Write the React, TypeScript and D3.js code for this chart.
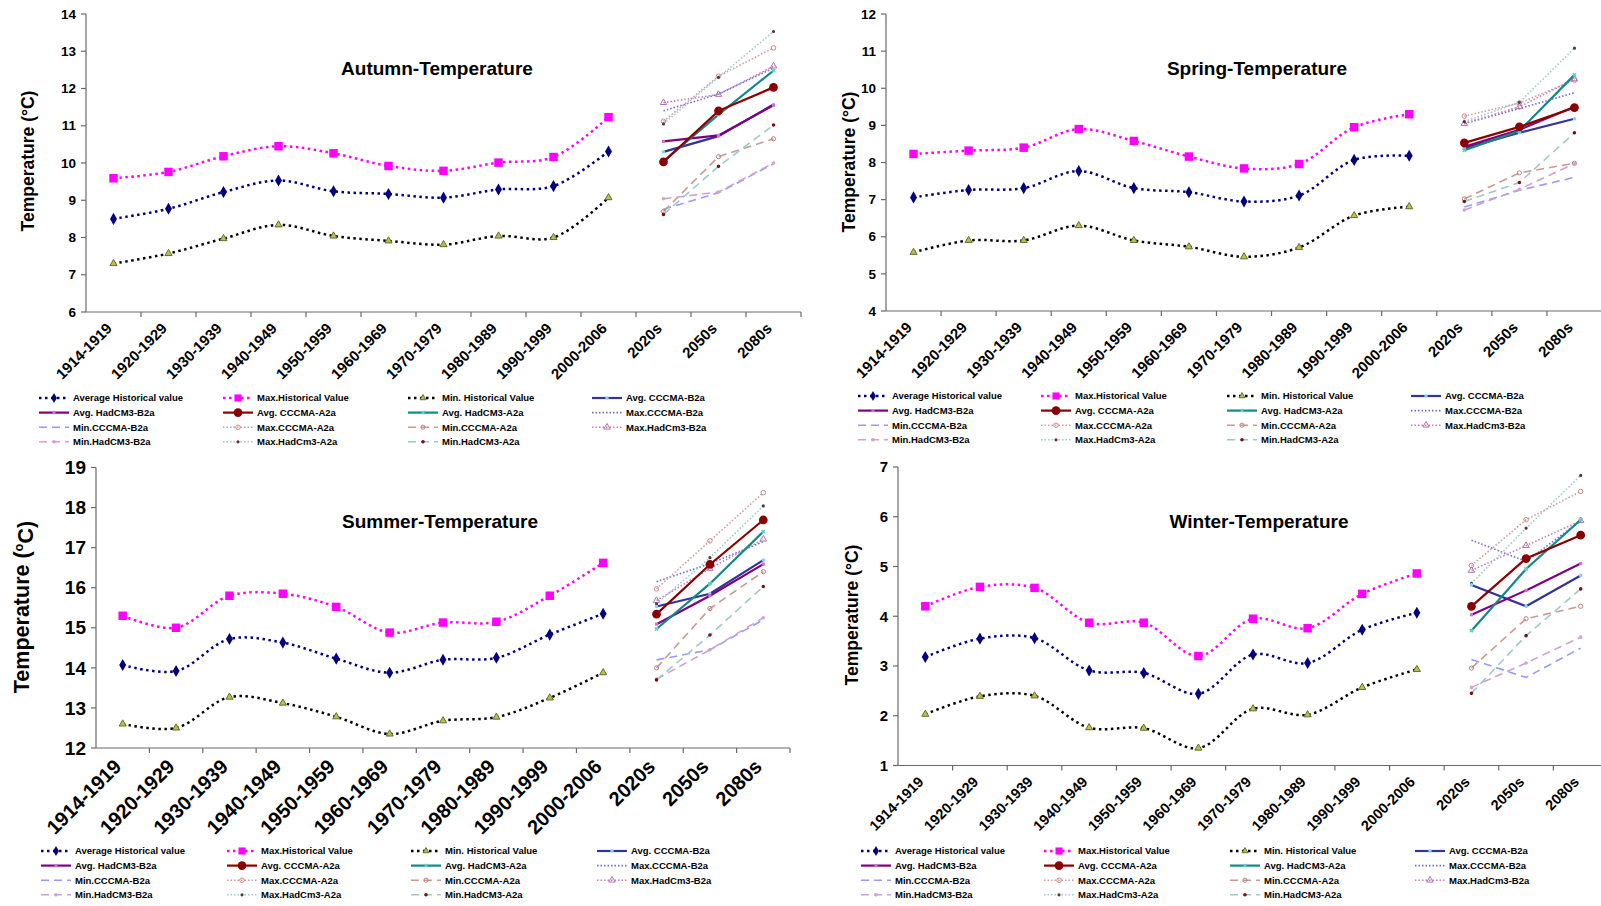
import React from "react";
import * as d3 from "d3";

// categories on the x axis
const periods = [
  "1914-1919", "1920-1929", "1930-1939", "1940-1949", "1950-1959",
  "1960-1969", "1970-1979", "1980-1989", "1990-1999", "2000-2006",
  "2020s", "2050s", "2080s",
];
const histPeriods = periods.slice(0, 10);
const futurePeriods = periods.slice(10);

// legend order (4 columns, row by row)
const seriesNames = [
  "Average Historical value", "Max.Historical Value", "Min. Historical Value", "Avg. CCCMA-B2a",
  "Avg. HadCM3-B2a", "Avg. CCCMA-A2a", "Avg. HadCM3-A2a", "Max.CCCMA-B2a",
  "Min.CCCMA-B2a", "Max.CCCMA-A2a", "Min.CCCMA-A2a", "Max.HadCm3-B2a",
  "Min.HadCM3-B2a", "Max.HadCm3-A2a", "Min.HadCM3-A2a",
];

// ---- Autumn
const autumnAvg = [8.5, 8.77, 9.22, 9.53, 9.24, 9.17, 9.07, 9.29, 9.38, 10.31];
const autumnMax = [9.59, 9.76, 10.18, 10.45, 10.26, 9.92, 9.79, 10.01, 10.16, 11.23];
const autumnMin = [7.3, 7.57, 7.97, 8.34, 8.04, 7.91, 7.81, 8.04, 8.0, 9.07];
// projections (2020s, 2050s, 2080s) in legend order, series 4..15
const autumnProj = [
  [10.3, 10.72, 11.57],
  [10.58, 10.74, 11.55],
  [10.03, 11.4, 12.03],
  [10.05, 11.3, 12.48],
  [11.4, 11.85, 12.55],
  [8.76, 9.2, 9.98],
  [11.12, 12.33, 13.09],
  [8.7, 10.17, 10.65],
  [11.62, 11.84, 12.6],
  [9.04, 9.22, 10.0],
  [11.05, 12.3, 13.53],
  [8.62, 9.91, 11.02],
];

// ---- Spring
const springAvg = [7.06, 7.26, 7.31, 7.77, 7.31, 7.2, 6.95, 7.11, 8.07, 8.18];
const springMax = [8.23, 8.32, 8.4, 8.9, 8.58, 8.16, 7.84, 7.96, 8.95, 9.3];
const springMin = [5.58, 5.9, 5.9, 6.3, 5.9, 5.73, 5.46, 5.71, 6.57, 6.81];
const springProj = [
  [8.38, 8.8, 9.18],
  [8.42, 8.88, 9.5],
  [8.53, 8.96, 9.48],
  [8.33, 8.85, 10.36],
  [9.05, 9.45, 9.88],
  [6.8, 7.25, 7.6],
  [9.25, 9.6, 10.22],
  [7.02, 7.72, 7.98],
  [9.05, 9.5, 10.25],
  [6.72, 7.28, 7.97],
  [9.1, 9.62, 11.08],
  [6.95, 7.46, 8.8],
];

// ---- Summer
const summerAvg = [14.07, 13.92, 14.72, 14.63, 14.23, 13.88, 14.2, 14.25, 14.83, 15.35];
const summerMax = [15.3, 15.0, 15.8, 15.85, 15.52, 14.88, 15.13, 15.15, 15.8, 16.62];
const summerMin = [12.6, 12.5, 13.27, 13.12, 12.78, 12.35, 12.68, 12.77, 13.25, 13.88];
const summerProj = [
  [15.53, 15.85, 16.69],
  [15.09, 15.8, 16.59],
  [15.34, 16.58, 17.69],
  [14.97, 16.1, 17.4],
  [16.15, 16.6, 17.15],
  [14.2, 14.45, 15.2],
  [15.97, 17.17, 18.37],
  [14.0, 15.48, 16.4],
  [15.68, 16.48, 17.21],
  [13.72, 14.45, 15.25],
  [15.6, 16.75, 18.04],
  [13.7, 14.82, 16.03],
];

// ---- Winter
const winterAvg = [3.18, 3.55, 3.56, 2.91, 2.86, 2.44, 3.23, 3.06, 3.73, 4.07];
const winterMax = [4.2, 4.59, 4.57, 3.87, 3.87, 3.2, 3.95, 3.76, 4.45, 4.86];
const winterMin = [2.03, 2.39, 2.4, 1.76, 1.75, 1.35, 2.14, 2.02, 2.57, 2.93];
const winterProj = [
  [4.63, 4.2, 4.82],
  [4.03, 4.52, 5.06],
  [4.2, 5.16, 5.63],
  [3.71, 4.95, 5.94],
  [5.53, 5.1, 5.92],
  [3.13, 2.77, 3.36],
  [5.02, 5.94, 6.51],
  [2.96, 3.95, 4.2],
  [4.92, 5.42, 5.92],
  [2.57, 3.06, 3.58],
  [4.66, 5.77, 6.83],
  [2.45, 3.61, 4.55],
];

const DOT = "2.5,3.5";
const FDOT = "1.5,2";
const DASH = "8,5";

// line + marker look for each legend entry
const looks = [
  { color: "#000080", dash: DOT, w: 2.5, sym: d3.symbolDiamond, size: 42, fill: "#000080", stroke: "none" },
  { color: "#FF00FF", dash: DOT, w: 2.5, sym: d3.symbolSquare, size: 72, fill: "#FF00FF", stroke: "none" },
  { color: "#000000", dash: DOT, w: 2.5, sym: d3.symbolTriangle, size: 22, fill: "#B7C24C", stroke: "#6b6b30" },
  { color: "#333399", dash: null, w: 2.2, sym: d3.symbolCircle, size: 10, fill: "#7FD4FF", stroke: "none" },
  { color: "#800080", dash: null, w: 2.2, sym: d3.symbolSquare, size: 10, fill: "#D070D0", stroke: "none" },
  { color: "#8B0000", dash: null, w: 2.2, sym: d3.symbolCircle, size: 60, fill: "#8B0000", stroke: "none" },
  { color: "#118A85", dash: null, w: 2.2, sym: d3.symbolCross, size: 12, fill: "#66CCCC", stroke: "none" },
  { color: "#6D6DD0", dash: FDOT, w: 1.6, sym: null, size: 0, fill: "none", stroke: "none" },
  { color: "#9A9AF5", dash: DASH, w: 1.6, sym: null, size: 0, fill: "none", stroke: "none" },
  { color: "#D39A9A", dash: FDOT, w: 1.6, sym: d3.symbolCircle, size: 16, fill: "none", stroke: "#C98888" },
  { color: "#C99A90", dash: DASH, w: 1.6, sym: d3.symbolCircle, size: 14, fill: "none", stroke: "#B98080" },
  { color: "#C27CC2", dash: FDOT, w: 1.6, sym: d3.symbolTriangle, size: 18, fill: "none", stroke: "#B070B0" },
  { color: "#D2A0D2", dash: DASH, w: 1.6, sym: d3.symbolCircle, size: 10, fill: "#D2A0D2", stroke: "none" },
  { color: "#9CCACA", dash: FDOT, w: 1.6, sym: d3.symbolCircle, size: 8, fill: "#5a3535", stroke: "none" },
  { color: "#9CCACA", dash: DASH, w: 1.6, sym: d3.symbolCircle, size: 10, fill: "#7a1010", stroke: "none" },
];

const FONT = "'Liberation Sans', Arial, Helvetica, sans-serif";

const panels = [
  {
    title: "Autumn-Temperature", avg: autumnAvg, max: autumnMax, min: autumnMin, proj: autumnProj,
    x0: 86, x1: 801, yT: 14, yB: 312, yMin: 6, yMax: 14,
    titleX: 437, titleY: 75, labX: 34, labY: 161, labSize: 17.5, tickSize: 13.5, xTickSize: 15,
    legX: [39, 223, 408, 592], legY: 398, sup: false, lblShift: -8,
  },
  {
    title: "Spring-Temperature", avg: springAvg, max: springMax, min: springMin, proj: springProj,
    x0: 886, x1: 1602, yT: 14, yB: 311, yMin: 4, yMax: 12,
    titleX: 1257, titleY: 75, labX: 855, labY: 162, labSize: 17.5, tickSize: 13.5, xTickSize: 15,
    legX: [858, 1041, 1227, 1411], legY: 396, sup: false, lblShift: -8,
  },
  {
    title: "Summer-Temperature", avg: summerAvg, max: summerMax, min: summerMin, proj: summerProj,
    x0: 96, x1: 790, yT: 467.5, yB: 748, yMin: 12, yMax: 19,
    titleX: 440, titleY: 528, labX: 29, labY: 607, labSize: 21.5, tickSize: 19, xTickSize: 20,
    legX: [41, 227, 411, 597], legY: 851, sup: true, lblShift: -10,
  },
  {
    title: "Winter-Temperature", avg: winterAvg, max: winterMax, min: winterMin, proj: winterProj,
    x0: 898, x1: 1608, yT: 467, yB: 765.5, yMin: 1, yMax: 7,
    titleX: 1259, titleY: 528, labX: 858, labY: 615, labSize: 17.5, tickSize: 15, xTickSize: 14.5,
    legX: [861, 1044, 1230, 1415], legY: 851, sup: false, lblShift: -8,
  },
];

function Marker({ look, x, y }) {
  if (!look.sym) return null;
  const d = d3.symbol(look.sym, look.size)();
  const rot = look.sym === d3.symbolCross ? " rotate(45)" : "";
  return (
    <path d={d} transform={`translate(${x},${y})${rot}`} fill={look.fill}
      stroke={look.stroke} strokeWidth={1} />
  );
}

function Panel({ p }) {
  const x = d3.scaleBand().domain(periods).range([p.x0, p.x1]);
  const cx = (c) => x(c) + x.bandwidth() / 2;
  const y = d3.scaleLinear().domain([p.yMin, p.yMax]).range([p.yB, p.yT]);
  const histLine = d3.line().x((d, i) => cx(histPeriods[i])).y((d) => y(d)).curve(d3.curveCatmullRom);
  const projLine = d3.line().x((d, i) => cx(futurePeriods[i])).y((d) => y(d));
  const hist = [p.avg, p.max, p.min];
  const order = [7, 8, 9, 10, 11, 12, 13, 14, 3, 4, 6, 5];

  return (
    <g fontFamily={FONT} fontWeight="bold">
      {/* axes */}
      <line x1={p.x0} x2={p.x0} y1={p.yT} y2={p.yB} stroke="#6a6a6a" strokeWidth={1.2} />
      <line x1={p.x0} x2={p.x1} y1={p.yB} y2={p.yB} stroke="#6a6a6a" strokeWidth={1.2} />
      {y.ticks(p.yMax - p.yMin).map((t) => (
        <g key={t}>
          <line x1={p.x0 - 5} x2={p.x0} y1={y(t)} y2={y(t)} stroke="#6a6a6a" strokeWidth={1.2} />
          <text x={p.x0 - 10} y={y(t)} dy="0.35em" textAnchor="end" fontSize={p.tickSize}>{t}</text>
        </g>
      ))}
      {periods.map((c) => (
        <line key={c} x1={x(c) + x.bandwidth()} x2={x(c) + x.bandwidth()} y1={p.yB} y2={p.yB + 5}
          stroke="#6a6a6a" strokeWidth={1.2} />
      ))}
      {periods.map((c) => (
        <text key={c} transform={`translate(${cx(c) + p.lblShift},${p.yB + 10}) rotate(-45)`}
          textAnchor="end" dy="0.7em" fontSize={p.xTickSize}>{c}</text>
      ))}

      {/* titles */}
      <text x={p.titleX} y={p.titleY} textAnchor="middle" fontSize={19}>{p.title}</text>
      <text transform={`translate(${p.labX},${p.labY}) rotate(-90)`} textAnchor="middle" fontSize={p.labSize}>
        {p.sup ? (
          <>Temperature (<tspan dy="-0.45em" fontSize={p.labSize * 0.6}>o</tspan><tspan dy="0.45em">C)</tspan></>
        ) : "Temperature (°C)"}
      </text>

      {/* projections */}
      {order.map((k) => {
        const look = looks[k];
        const vals = p.proj[k - 3];
        return (
          <g key={k}>
            <path d={projLine(vals)} fill="none" stroke={look.color} strokeWidth={look.w}
              strokeDasharray={look.dash || undefined} />
            {vals.map((v, i) => <Marker key={i} look={look} x={cx(futurePeriods[i])} y={y(v)} />)}
          </g>
        );
      })}

      {/* historical */}
      {hist.map((vals, k) => (
        <g key={k}>
          <path d={histLine(vals)} fill="none" stroke={looks[k].color} strokeWidth={looks[k].w}
            strokeDasharray={looks[k].dash} />
          {vals.map((v, i) => <Marker key={i} look={looks[k]} x={cx(histPeriods[i])} y={y(v)} />)}
        </g>
      ))}

      {/* legend */}
      {seriesNames.map((name, i) => {
        const lx = p.legX[i % 4];
        const ly = p.legY + Math.floor(i / 4) * 14.6;
        const look = looks[i];
        return (
          <g key={name}>
            <line x1={lx} x2={lx + 30} y1={ly} y2={ly} stroke={look.color}
              strokeWidth={i < 3 ? 2.5 : look.w} strokeDasharray={look.dash || undefined} />
            <Marker look={i < 3 ? { ...look, size: look.size * 0.7 } : look} x={lx + 15} y={ly} />
            <text x={lx + 34} y={ly} dy="0.35em" fontSize={9.5}>{name}</text>
          </g>
        );
      })}
    </g>
  );
}

export default function App() {
  return (
    <svg width={1601} height={906} style={{ position: "absolute", left: 0, top: 0, display: "block", background: "#fff" }}>
      <rect width={1601} height={906} fill="#fff" />
      {panels.map((p) => <Panel key={p.title} p={p} />)}
    </svg>
  );
}
